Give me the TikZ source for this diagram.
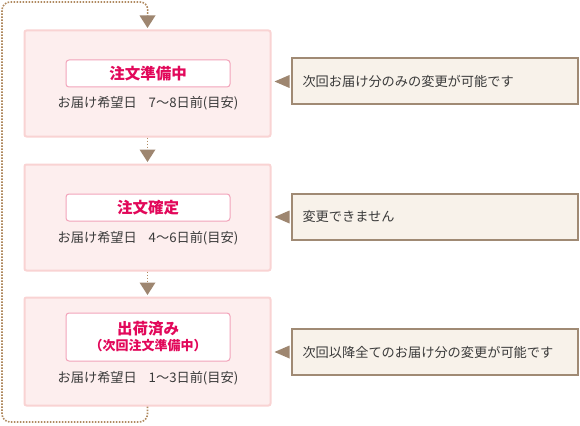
\documentclass[tikz,border=0pt]{standalone}
\usepackage{fontspec}
\setmainfont{Noto Sans CJK JP}
\definecolor{boxfill}{HTML}{FDEEEE}
\definecolor{boxline}{HTML}{F9D3D3}
\definecolor{lblline}{HTML}{F2A3BA}
\definecolor{lbltext}{HTML}{E2085A}
\definecolor{bodytext}{HTML}{3A3A3A}
\definecolor{callfill}{HTML}{F8F2EA}
\definecolor{callline}{HTML}{A08A74}
\definecolor{arrowc}{HTML}{9E8670}
\definecolor{dotc}{HTML}{B08A60}
\tikzset{
  mainbox/.style={draw=boxline, fill=boxfill, line width=2pt, rounded corners=2pt,
    minimum width=246pt, minimum height=106pt, inner sep=0pt},
  lblbox/.style={draw=lblline, fill=white, line width=1pt, rounded corners=3pt,
    minimum width=164pt, minimum height=27pt, inner sep=0pt, text=lbltext,
    font=\fontsize{15.5}{17}\selectfont\bfseries, align=center},
  bodyline/.style={text=bodytext, inner sep=0pt, font=\fontsize{13.2}{15}\selectfont},
  callbox/.style={draw=callline, fill=callfill, line width=2pt,
    minimum width=286pt, minimum height=46pt, text width=264pt, inner xsep=11pt,
    align=left, text=bodytext, font=\fontsize{13.2}{15}\selectfont},
  dotline/.style={draw=dotc, line width=1.6pt, dash pattern=on 1.6pt off 1.4pt},
}
\begin{document}
\begin{tikzpicture}[x=1pt,y=-1pt]
\useasboundingbox (0,0) rectangle (580,425);
% main boxes
\node[mainbox] (b1) at (147.5,83.5) {};
\node[mainbox] (b2) at (147.5,217.5) {};
\node[mainbox, minimum height=108pt] (b3) at (147.5,351.5) {};
% labels
\node[lblbox] (l1) at (148,73.5) {注文準備中};
\node[lblbox] (l2) at (148,207.5) {注文確定};
\node[lblbox, minimum height=48pt] (l3) at (148,337) {出荷済み\\[-1pt]{\fontsize{13}{15}\selectfont （次回注文準備中）}};
% body lines
\node[bodyline] (t1) at (148,103) {お届け希望日\hspace{0.9em}7〜8日前(目安)};
\node[bodyline] (t2) at (148,238) {お届け希望日\hspace{0.9em}4〜6日前(目安)};
\node[bodyline] (t3) at (148,378) {お届け希望日\hspace{0.9em}1〜3日前(目安)};
% callouts
\node[callbox] (c1) at (434.5,81.5) {次回お届け分のみの変更が可能です};
\node[callbox] (c2) at (434.5,217) {変更できません};
\node[callbox] (c3) at (434.5,352) {次回以降全てのお届け分の変更が可能です};
\foreach \c in {c1,c2,c3}{
  \fill[arrowc] ([yshift=6.5pt,xshift=-1pt]\c.west) -- ([xshift=-16pt]\c.west) -- ([yshift=-6.5pt,xshift=-1pt]\c.west) -- cycle;
}
% connectors between boxes
\draw[dotline] (b1.south) -- ([yshift=14pt]b2.north);
\fill[arrowc] ([xshift=-8pt,yshift=14pt]b2.north) -- ([xshift=8pt,yshift=14pt]b2.north) -- ([yshift=1.5pt]b2.north) -- cycle;
\draw[dotline] (b2.south) -- ([yshift=14pt]b3.north);
\fill[arrowc] ([xshift=-8pt,yshift=14pt]b3.north) -- ([xshift=8pt,yshift=14pt]b3.north) -- ([yshift=1.5pt]b3.north) -- cycle;
% loop back
\draw[dotline, rounded corners=8pt] (b3.south) |- (2,422) |- (148,2) -- ([yshift=14pt]b1.north);
\fill[arrowc] ([xshift=-8pt,yshift=14pt]b1.north) -- ([xshift=8pt,yshift=14pt]b1.north) -- ([yshift=1.5pt]b1.north) -- cycle;
\end{tikzpicture}
\end{document}
